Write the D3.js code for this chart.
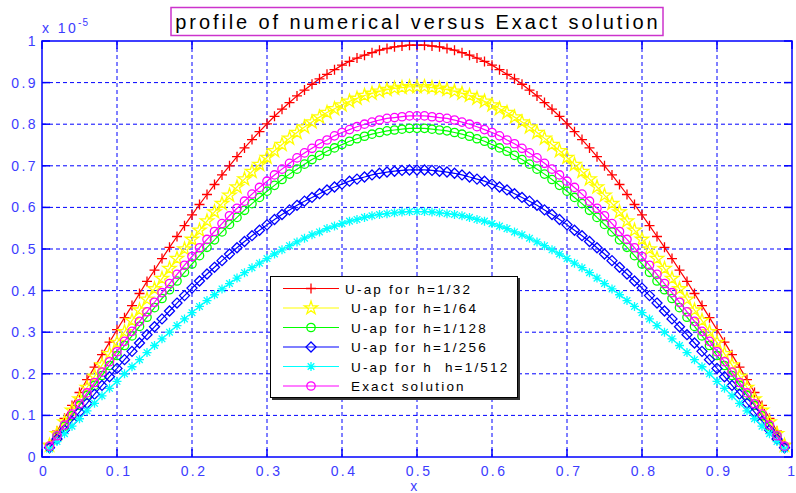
<!DOCTYPE html>
<meta charset="utf-8">
<style>
body { margin: 0; background: #fff; }
.grid line { stroke: #0000ff; stroke-width: 1; stroke-dasharray: 4,3; }
.tick-lab { font-family: "Liberation Sans", Arial, sans-serif; font-size: 14px; fill: #3c3cff; letter-spacing: 2.4px; }
.leg-text { font-family: "Liberation Sans", Arial, sans-serif; font-size: 13.5px; fill: #000; letter-spacing: 2.2px; }
</style>
<body>
<script src="https://d3js.org/d3.v7.min.js"></script>
<script>

// x grid of the numerical solutions (0.01 .. 0.99)
var xs = [0.01,0.02,0.03,0.04,0.05,0.06,0.07,0.08,0.09,0.10,
  0.11,0.12,0.13,0.14,0.15,0.16,0.17,0.18,0.19,0.20,
  0.21,0.22,0.23,0.24,0.25,0.26,0.27,0.28,0.29,0.30,
  0.31,0.32,0.33,0.34,0.35,0.36,0.37,0.38,0.39,0.40,
  0.41,0.42,0.43,0.44,0.45,0.46,0.47,0.48,0.49,0.50,
  0.51,0.52,0.53,0.54,0.55,0.56,0.57,0.58,0.59,0.60,
  0.61,0.62,0.63,0.64,0.65,0.66,0.67,0.68,0.69,0.70,
  0.71,0.72,0.73,0.74,0.75,0.76,0.77,0.78,0.79,0.80,
  0.81,0.82,0.83,0.84,0.85,0.86,0.87,0.88,0.89,0.90,
  0.91,0.92,0.93,0.94,0.95,0.96,0.97,0.98,0.99];

// values in units of 1e-5
var u32 = [.031,.062,.093,.124,.155,.186,.216,.246,.276,.306,
  .335,.364,.393,.422,.449,.477,.504,.530,.556,.582,
  .607,.631,.655,.678,.700,.722,.743,.763,.782,.801,
  .819,.836,.852,.868,.882,.896,.909,.920,.931,.942,
  .951,.959,.966,.972,.978,.982,.986,.988,.990,.990,
  .990,.988,.986,.982,.978,.972,.966,.959,.951,
  .942,.931,.920,.909,.896,.882,.868,.852,.836,.819,
  .801,.782,.763,.743,.722,.700,.678,.655,.631,.607,
  .582,.556,.530,.504,.477,.449,.422,.393,.364,.335,
  .306,.276,.246,.216,.186,.155,.124,.093,.062,.031];

var u64 = [.028,.056,.084,.112,.139,.167,.194,.221,.248,.275,
  .301,.328,.353,.379,.404,.429,.453,.477,.500,.523,
  .545,.567,.589,.609,.629,.649,.668,.686,.703,.720,
  .736,.751,.766,.780,.793,.805,.817,.828,.837,.846,
  .855,.862,.869,.874,.879,.883,.886,.888,.890,.890,
  .890,.888,.886,.883,.879,.874,.869,.862,.855,
  .846,.837,.828,.817,.805,.793,.780,.766,.751,.736,
  .720,.703,.686,.668,.649,.629,.609,.589,.567,.545,
  .523,.500,.477,.453,.429,.404,.379,.353,.328,.301,
  .275,.248,.221,.194,.167,.139,.112,.084,.056,.028];

var u128 = [.025,.050,.074,.099,.124,.148,.172,.196,.220,.244,
  .268,.291,.314,.336,.359,.381,.402,.423,.444,.464,
  .484,.504,.522,.541,.559,.576,.593,.609,.624,.639,
  .653,.667,.680,.692,.704,.715,.725,.735,.743,.751,
  .759,.765,.771,.776,.780,.784,.786,.788,.790,.790,
  .790,.788,.786,.784,.780,.776,.771,.765,.759,
  .751,.743,.735,.725,.715,.704,.692,.680,.667,.653,
  .639,.624,.609,.593,.576,.559,.541,.522,.504,.484,
  .464,.444,.423,.402,.381,.359,.336,.314,.291,.268,
  .244,.220,.196,.172,.148,.124,.099,.074,.050,.025];

var u256 = [.022,.043,.065,.086,.108,.129,.151,.172,.193,.213,
  .234,.254,.274,.294,.313,.332,.351,.370,.388,.406,
  .423,.440,.456,.472,.488,.503,.518,.532,.545,.558,
  .571,.583,.594,.605,.615,.624,.633,.642,.649,.656,
  .663,.668,.673,.678,.682,.685,.687,.689,.690,.690,
  .690,.689,.687,.685,.682,.678,.673,.668,.663,
  .656,.649,.642,.633,.624,.615,.605,.594,.583,.571,
  .558,.545,.532,.518,.503,.488,.472,.456,.440,.423,
  .406,.388,.370,.351,.332,.313,.294,.274,.254,.234,
  .213,.193,.172,.151,.129,.108,.086,.065,.043,.022];

var u512 = [.019,.037,.056,.074,.092,.111,.129,.147,.165,.182,
  .200,.217,.234,.251,.268,.284,.300,.316,.332,.347,
  .362,.376,.390,.404,.417,.430,.443,.455,.466,.477,
  .488,.498,.508,.517,.526,.534,.541,.549,.555,.561,
  .567,.571,.576,.580,.583,.585,.587,.589,.590,.590,
  .590,.589,.587,.585,.583,.580,.576,.571,.567,
  .561,.555,.549,.541,.534,.526,.517,.508,.498,.488,
  .477,.466,.455,.443,.430,.417,.404,.390,.376,.362,
  .347,.332,.316,.300,.284,.268,.251,.234,.217,.200,
  .182,.165,.147,.129,.111,.092,.074,.056,.037,.019];

var exact = [.026,.051,.077,.103,.128,.154,.179,.204,.229,.253,
  .278,.302,.326,.349,.372,.395,.417,.439,.461,.482,
  .503,.523,.542,.561,.580,.598,.615,.632,.648,.663,
  .678,.692,.706,.719,.731,.742,.753,.762,.772,.780,
  .787,.794,.800,.805,.810,.814,.816,.818,.820,.820,
  .820,.818,.816,.814,.810,.805,.800,.794,.787,
  .780,.772,.762,.753,.742,.731,.719,.706,.692,.678,
  .663,.648,.632,.615,.598,.580,.561,.542,.523,.503,
  .482,.461,.439,.417,.395,.372,.349,.326,.302,.278,
  .253,.229,.204,.179,.154,.128,.103,.077,.051,.026];

var labels = ["U-ap for h=1/32", " U-ap for h=1/64", " U-ap for h=1/128",
  " U-ap for h=1/256", " U-ap for h  h=1/512", " Exact solution"];
var colors = ["#ff0000", "#ffff00", "#00ff00", "#0000ff", "#00ffff", "#ff00ff"];
var markers = ["plus", "star", "circle", "diamond", "asterisk", "circle"];
var series = [u32, u64, u128, u256, u512, exact];

var xTicks = [0, 0.1, 0.2, 0.3, 0.4, 0.5, 0.6, 0.7, 0.8, 0.9, 1];
var yTicks = [0, 0.1, 0.2, 0.3, 0.4, 0.5, 0.6, 0.7, 0.8, 0.9, 1];

var W = 796, H = 493;
var margin = {top: 41, right: 4, bottom: 36, left: 42},
    width = W - margin.left - margin.right,
    height = H - margin.top - margin.bottom;

var x = d3.scaleLinear().domain([0, 1]).range([0, width]);
var y = d3.scaleLinear().domain([0, 1]).range([height, 0]);

var svg = d3.select("body").append("svg")
    .attr("width", W)
    .attr("height", H);

var g = svg.append("g")
    .attr("transform", "translate(" + margin.left + "," + margin.top + ")");

// dashed grid
var grid = g.append("g").attr("class", "grid");
grid.selectAll(".gx").data(xTicks.slice(1, -1)).enter().append("line")
    .attr("x1", function(d) { return x(d); })
    .attr("x2", function(d) { return x(d); })
    .attr("y1", 0).attr("y2", height);
grid.selectAll(".gy").data(yTicks.slice(1, -1)).enter().append("line")
    .attr("y1", function(d) { return y(d); })
    .attr("y2", function(d) { return y(d); })
    .attr("x1", 0).attr("x2", width);

// marker paths
function markerPath(type) {
  if (type == "plus") return "M-5,0H5M0,-5V5";
  if (type == "asterisk") return "M-4.5,0H4.5M0,-4.5V4.5M-3.3,-3.3L3.3,3.3M-3.3,3.3L3.3,-3.3";
  if (type == "diamond") return "M0,-5L5,0L0,5L-5,0Z";
  if (type == "circle") return d3.symbol().type(d3.symbolCircle).size(55)();
  if (type == "star") return d3.symbol().type(d3.symbolStar).size(55)();
}

var line = d3.line()
    .x(function(d, i) { return x(xs[i]); })
    .y(function(d) { return y(d); });

var plot = g.append("g");
series.forEach(function(s, k) {
  plot.append("path")
      .datum(s)
      .attr("fill", "none")
      .attr("stroke", colors[k])
      .attr("stroke-width", 1.2)
      .attr("d", line);
  plot.selectAll(".m" + k).data(s).enter().append("path")
      .attr("class", "m" + k)
      .attr("transform", function(d, i) { return "translate(" + x(xs[i]) + "," + y(d) + ")"; })
      .attr("d", markerPath(markers[k]))
      .attr("fill", "none")
      .attr("stroke", colors[k])
      .attr("stroke-width", 1.3);
});

// axes box with inner ticks
var axisCol = "#0000ff";
g.append("rect")
    .attr("width", width).attr("height", height)
    .attr("fill", "none").attr("stroke", axisCol).attr("stroke-width", 1.5);

var tl = 8;
xTicks.forEach(function(t) {
  g.append("line").attr("x1", x(t)).attr("x2", x(t)).attr("y1", height).attr("y2", height - tl)
      .attr("stroke", axisCol).attr("stroke-width", 1.5);
  g.append("line").attr("x1", x(t)).attr("x2", x(t)).attr("y1", 0).attr("y2", tl)
      .attr("stroke", axisCol).attr("stroke-width", 1.5);
});
yTicks.forEach(function(t) {
  g.append("line").attr("y1", y(t)).attr("y2", y(t)).attr("x1", 0).attr("x2", tl)
      .attr("stroke", axisCol).attr("stroke-width", 1.5);
  g.append("line").attr("y1", y(t)).attr("y2", y(t)).attr("x1", width).attr("x2", width - tl)
      .attr("stroke", axisCol).attr("stroke-width", 1.5);
});

// tick labels (last one kept inside the page edge)
g.selectAll(".xl").data(xTicks).enter().append("text")
    .attr("class", "tick-lab")
    .attr("x", function(d) { return d == 1 ? x(d) + 3 : x(d) + 2; })
    .attr("y", height + 19)
    .attr("text-anchor", function(d) { return d == 1 ? "end" : "middle"; })
    .style("letter-spacing", function(d) { return d == 1 ? "0px" : null; })
    .text(function(d) { return d; });
g.selectAll(".yl").data(yTicks).enter().append("text")
    .attr("class", "tick-lab")
    .attr("x", -4)
    .attr("y", function(d) { return y(d) + 5; })
    .attr("text-anchor", "end")
    .text(function(d) { return d; });

// exponent label
var ex = svg.append("text").attr("class", "tick-lab")
    .attr("x", 42).attr("y", 33);
ex.append("tspan").text("x 10");
ex.append("tspan").attr("dy", -7).attr("font-size", "10px").style("letter-spacing", "1px").text("-5");

// x label
svg.append("text").attr("class", "tick-lab")
    .attr("x", margin.left + x(0.5) - 2).attr("y", 491)
    .attr("text-anchor", "middle").text("x");

// title in box
svg.append("rect")
    .attr("x", 171).attr("y", 7.5).attr("width", 492).attr("height", 28)
    .attr("fill", "#fff").attr("stroke", "#cc33cc").attr("stroke-width", 1.5);
svg.append("text")
    .attr("x", 418).attr("y", 29)
    .attr("text-anchor", "middle")
    .style("font-family", "'Liberation Sans', Arial, sans-serif")
    .style("font-size", "20px")
    .style("letter-spacing", "2.9px")
    .text("profile of numerical versus Exact solution");

// legend
var leg = svg.append("g").attr("transform", "translate(270,276)");
leg.append("rect").attr("x", 2).attr("y", 2).attr("width", 248).attr("height", 122).attr("fill", "#333");
leg.append("rect").attr("x", 0.5).attr("y", 0.5).attr("width", 247).attr("height", 121)
    .attr("fill", "#fff").attr("stroke", "#000").attr("stroke-width", 1);
labels.forEach(function(l, k) {
  var yy = 12.5 + k * 19.5;
  leg.append("line").attr("x1", 13).attr("x2", 69).attr("y1", yy).attr("y2", yy)
      .attr("stroke", colors[k]).attr("stroke-width", 1.2);
  leg.append("path").attr("transform", "translate(41," + yy + ")")
      .attr("d", markerPath(markers[k]))
      .attr("fill", "none").attr("stroke", colors[k]).attr("stroke-width", 1.3);
  leg.append("text").attr("class", "leg-text")
      .attr("x", 75).attr("y", yy + 5)
      .attr("xml:space", "preserve")
      .style("white-space", "pre")
      .text(l);
});

</script>
</body>
